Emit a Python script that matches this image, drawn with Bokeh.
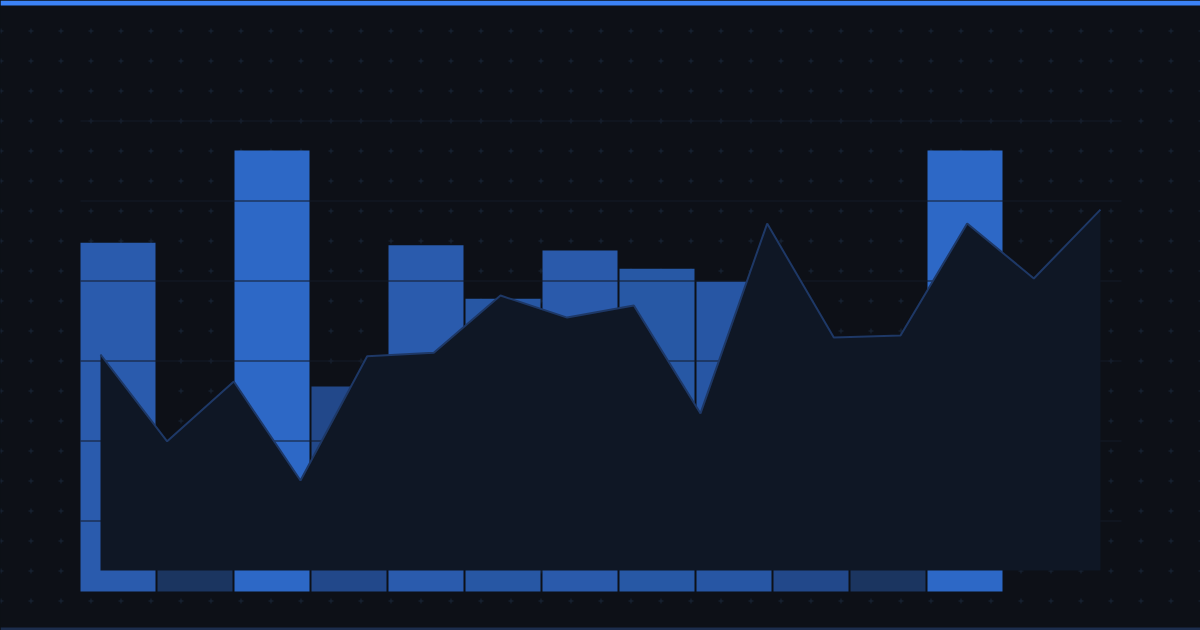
import numpy as np
from bokeh.plotting import figure
from bokeh.models import Range1d, BoxAnnotation, GlobalInlineStyleSheet
from bokeh.embed import file_html
from bokeh.resources import INLINE

# bars (12 periods)
bar_idx = list(range(12))
bar_values = [79.1, 27.0, 100.0, 46.5, 78.5, 66.4, 77.3, 73.2, 70.3, 45.0, 27.0, 100.0]
bar_colors = ["#2a5bad", "#1b3560", "#2d68c6", "#22488a", "#2a5bad", "#2757a4",
              "#2a5aab", "#2758a5", "#2756a4", "#22488a", "#1b3560", "#2d68c6"]

# area series (16 points)
area_idx = list(range(16))
area_values = [48.0, 28.7, 42.0, 20.0, 47.6, 48.4, 61.1, 56.2,
               58.9, 34.9, 77.1, 51.8, 52.2, 77.1, 64.9, 80.2]

W, H = 1200, 630
BG = "#0d1017"

p = figure(width=W, height=H, output_backend="svg", toolbar_location=None,
           x_range=Range1d(0, W), y_range=Range1d(0, H),
           x_axis_type=None, y_axis_type=None, min_border=0,
           background_fill_color=BG, border_fill_color=BG, outline_line_color=None)
p.grid.visible = False
p.stylesheets = [GlobalInlineStyleSheet(
    css="html,body{margin:0;padding:0;background:%s;overflow:hidden}" % BG)]

# scales for the two series
p.extra_x_ranges = {"bx": Range1d(-117.5 / 77, -117.5 / 77 + W / 77),
                    "ax": Range1d(-1.5, -1.5 + W / (1000 / 15))}
p.extra_y_ranges = {"by": Range1d(-39 / 4.41, -39 / 4.41 + H / 4.41),
                    "ay": Range1d(-60 / 4.5, -60 / 4.5 + H / 4.5)}

# dotted cross pattern in the background
gx, gy = np.meshgrid(np.arange(0, W + 1, 30) + 0.5, H - np.arange(30, 601, 30) - 0.5)
p.scatter(gx.ravel(), gy.ravel(), marker="cross", size=5, line_color="#1b2638", line_width=1)

p.vbar(x=bar_idx, top=bar_values, bottom=0, width=75 / 77, fill_color=bar_colors,
       line_color=None, x_range_name="bx", y_range_name="by")

# horizontal guide lines
gl = H - np.arange(120, 521, 80) - 0.5
p.segment(x0=80, x1=1121, y0=gl, y1=gl, line_color="#141b29", line_width=1.2)

p.varea(x=area_idx, y1=0, y2=area_values, fill_color="#0f1725",
        x_range_name="ax", y_range_name="ay")
p.line(x=area_idx, y=area_values, line_color="#1e3866", line_width=2,
       x_range_name="ax", y_range_name="ay")

# top accent bar and bottom rule
p.add_layout(BoxAnnotation(bottom=H - 5, top=H, fill_color="#3b82f6", fill_alpha=1,
                           line_color=None))
p.add_layout(BoxAnnotation(bottom=0, top=3, fill_color="#1c2d4d", fill_alpha=1,
                           line_color=None))

open("out.html", "w").write(file_html(p, INLINE))
